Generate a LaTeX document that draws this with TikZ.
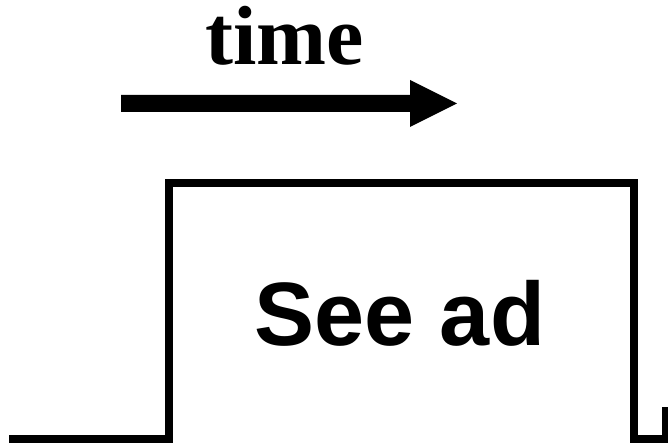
\documentclass[tikz,border=0pt]{standalone}
\usepackage{fontspec}
\setmainfont{Liberation Serif}
\newfontfamily\arialfont{Liberation Sans}
\begin{document}
\begin{tikzpicture}[x=1pt,y=1pt,
  pulse/.style={line width=8pt,line join=miter,black},
  timelabel/.style={inner sep=0pt,anchor=base,font=\fontsize{84}{84}\selectfont\bfseries},
  adlabel/.style={inner sep=0pt,anchor=base,font=\arialfont\fontsize{90}{90}\selectfont\bfseries}]
\useasboundingbox (0,0) rectangle (668,443);
% time arrow
\coordinate (tailtop) at (121,348);
\coordinate (tailbot) at (121,331);
\coordinate (tip) at (457,339.5);
\fill[black] (tailtop) -- (410,348) -- (410,363) -- (tip) -- (410,316) -- (410,331) -- (tailbot) -- cycle;
\node[timelabel] (time) at (284.5,378) {time};
% pulse
\coordinate (p0) at (9,4);
\coordinate (p1) at (169,4);
\coordinate (p2) at (169,260);
\coordinate (p3) at (633.5,260);
\coordinate (p4) at (633.5,4);
\coordinate (p5) at (666,4);
\coordinate (p6) at (666,36);
\draw[pulse] (p0) -- (p1) -- (p2) -- (p3) -- (p4) -- (p5) -- (p6);
\node[adlabel] (ad) at (400,97) {See ad};
\end{tikzpicture}
\end{document}
